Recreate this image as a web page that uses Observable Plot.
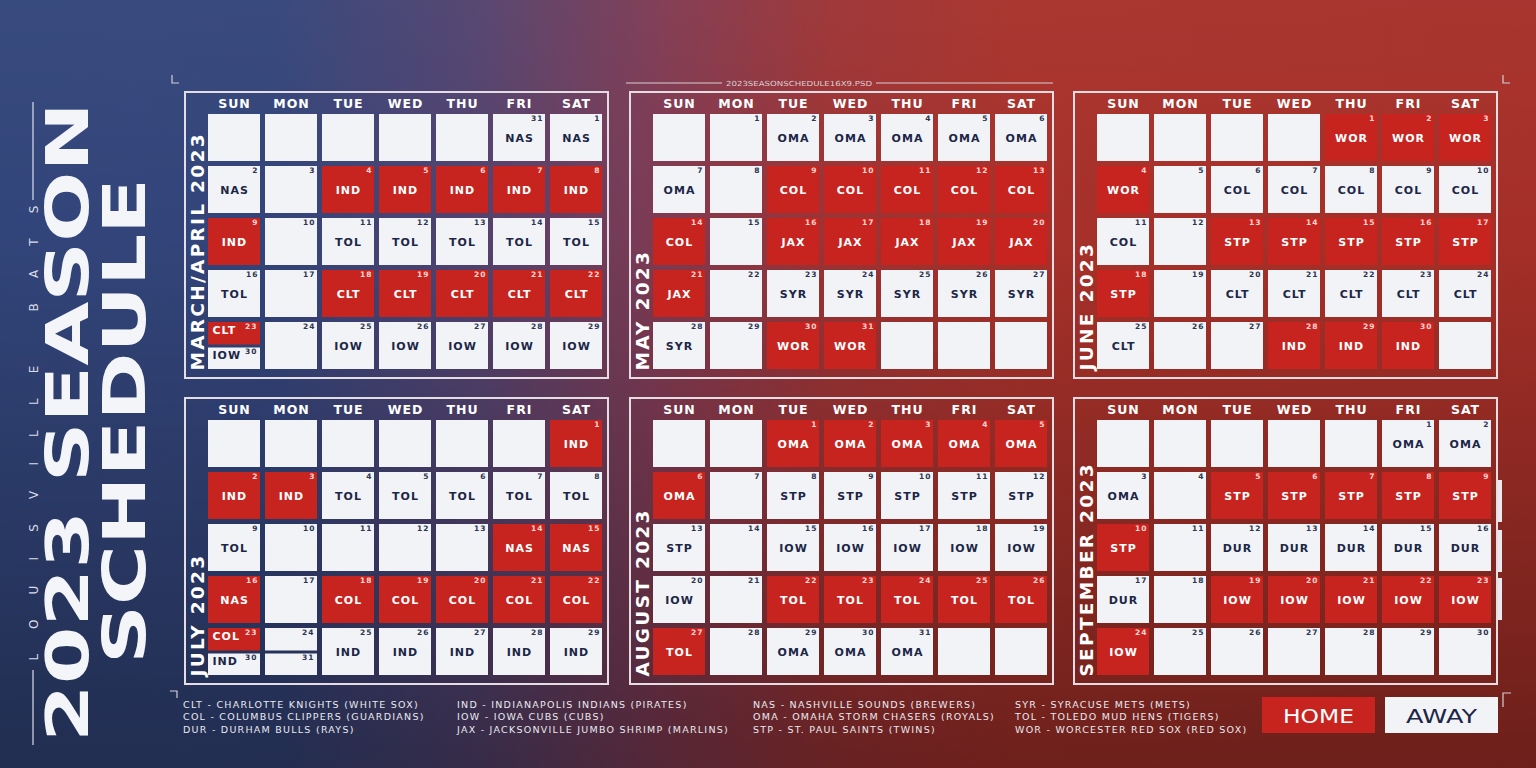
<!DOCTYPE html>
<html>
<head>
<meta charset="utf-8">
<script src="https://cdn.jsdelivr.net/npm/d3@7"></script>
<script src="https://cdn.jsdelivr.net/npm/@observablehq/plot@0.6"></script>
<style>
  html, body { margin: 0; padding: 0; background: #2b3560; }
  #page {
    position: relative; width: 1536px; height: 768px; overflow: hidden;
    background:
      linear-gradient(180deg, rgba(255,255,255,0.03) 0%, rgba(0,0,0,0) 30%, rgba(0,0,0,0.34) 100%),
      linear-gradient(90deg, #32457a 0%, #33447a 18%, #52426e 31%, #7f3a52 43%, #9c3334 54%, #a7312a 66%, #a52f28 100%);
    font-family: "DejaVu Sans", sans-serif;
  }
  #deco { position: absolute; left: 0; top: 0; }
  .panel { position: absolute; }
  .month text { letter-spacing: 1px; }
</style>
</head>
<body>
<div id="page"></div>
<script>
// ---------------- data ----------------
const weekdays = ["SUN", "MON", "TUE", "WED", "THU", "FRI", "SAT"];
const monthTitles = ["MARCH/APRIL 2023", "MAY 2023", "JUNE 2023", "JULY 2023", "AUGUST 2023", "SEPTEMBER 2023"];
const monthStarts = ["2023-03-31", "2023-05-01", "2023-06-01", "2023-07-01", "2023-08-01", "2023-09-01"];

// one entry per calendar day from the start date ("-" = no game); H = home, A = away
const aprilOpponents = "NAS NAS NAS - IND IND IND IND IND IND - TOL TOL TOL TOL TOL TOL - CLT CLT CLT CLT CLT CLT - IOW IOW IOW IOW IOW IOW".split(" ");
const aprilSides     = "A A A - H H H H H H - A A A A A A - H H H H H H - A A A A A A".split(" ");
const mayOpponents   = "- OMA OMA OMA OMA OMA OMA - COL COL COL COL COL COL - JAX JAX JAX JAX JAX JAX - SYR SYR SYR SYR SYR SYR - WOR WOR".split(" ");
const maySides       = "- A A A A A A - H H H H H H - H H H H H H - A A A A A A - H H".split(" ");
const juneOpponents  = "WOR WOR WOR WOR - COL COL COL COL COL COL - STP STP STP STP STP STP - CLT CLT CLT CLT CLT CLT - - IND IND IND".split(" ");
const juneSides      = "H H H H - A A A A A A - H H H H H H - A A A A A A - - H H H".split(" ");
const julyOpponents  = "IND IND IND TOL TOL TOL TOL TOL TOL - - - - NAS NAS NAS - COL COL COL COL COL COL - IND IND IND IND IND IND -".split(" ");
const julySides      = "H H H A A A A A A - - - - H H H - H H H H H H - A A A A A A -".split(" ");
const augOpponents   = "OMA OMA OMA OMA OMA OMA - STP STP STP STP STP STP - IOW IOW IOW IOW IOW IOW - TOL TOL TOL TOL TOL TOL - OMA OMA OMA".split(" ");
const augSides       = "H H H H H H - A A A A A A - A A A A A A - H H H H H H - A A A".split(" ");
const sepOpponents   = "OMA OMA OMA - STP STP STP STP STP STP - DUR DUR DUR DUR DUR DUR - IOW IOW IOW IOW IOW IOW - - - - - -".split(" ");
const sepSides       = "A A A - H H H H H H - A A A A A A - H H H H H H - - - - - -".split(" ");

const monthOpponents = [aprilOpponents, mayOpponents, juneOpponents, julyOpponents, augOpponents, sepOpponents];
const monthSides = [aprilSides, maySides, juneSides, julySides, augSides, sepSides];

const legendTeams = [
  "CLT - CHARLOTTE KNIGHTS (WHITE SOX)", "COL - COLUMBUS CLIPPERS (GUARDIANS)", "DUR - DURHAM BULLS (RAYS)",
  "IND - INDIANAPOLIS INDIANS (PIRATES)", "IOW - IOWA CUBS (CUBS)", "JAX - JACKSONVILLE JUMBO SHRIMP (MARLINS)",
  "NAS - NASHVILLE SOUNDS (BREWERS)", "OMA - OMAHA STORM CHASERS (ROYALS)", "STP - ST. PAUL SAINTS (TWINS)",
  "SYR - SYRACUSE METS (METS)", "TOL - TOLEDO MUD HENS (TIGERS)", "WOR - WORCESTER RED SOX (RED SOX)"
];
const legendKeys = ["HOME", "AWAY"];

// ---------------- styles ----------------
const RED = "#c8241f", WHITE = "#f2f3f7", NAVY = "#1c2646", LINE = "#e4dde4";
const FONT = "DejaVu Sans";

// ---------------- build records ----------------
function buildMonth(start, opps, sides) {
  const t0 = new Date(start + "T00:00:00Z");
  const lead = t0.getUTCDay();
  const byPos = new Map();
  opps.forEach((o, i) => {
    const d = d3.utcDay.offset(t0, i);
    const k = lead + i;
    byPos.set((k % 7) + "," + Math.floor(k / 7), {
      day: d.getUTCDate(), opp: o === "-" ? "" : o, side: sides[i] === "H" ? "H" : "A"
    });
  });
  const recs = [];
  for (let w = 0; w < 5; w++) {
    for (let c = 0; c < 7; c++) {
      const base = {dow: weekdays[c], week: w};
      const d = byPos.get(c + "," + w);
      const extra = w === 4 ? byPos.get(c + ",5") : undefined;
      if (extra) {
        recs.push({...base, ...d, part: "top"});
        recs.push({...base, ...extra, part: "bottom"});
      } else {
        recs.push({...base, ...(d || {day: null, opp: "", side: "A"}), part: "full"});
      }
    }
  }
  return recs;
}

function sideText(data, opts, homeFill, awayFill) {
  return [
    Plot.text(data.filter(d => d.side === "H"), {...opts, fill: homeFill}),
    Plot.text(data.filter(d => d.side !== "H"), {...opts, fill: awayFill})
  ];
}

function monthPlot(title, recs) {
  const full = recs.filter(d => d.part === "full");
  const top = recs.filter(d => d.part === "top");
  const bottom = recs.filter(d => d.part === "bottom");
  const lab = {x: "dow", y: "week", text: "opp", fontFamily: FONT, fontWeight: "bold", fontSize: 11};
  const num = {x: "dow", y: "week", text: "day", fontFamily: FONT, fontWeight: "bold", fontSize: 7.5, textAnchor: "end"};
  const chart = Plot.plot({
    width: 426, height: 289,
    marginLeft: 25, marginRight: 7, marginTop: 23, marginBottom: 9,
    className: "month",
    style: {background: "transparent", color: "white", overflow: "visible"},
    x: {domain: weekdays, paddingInner: 0.088, paddingOuter: 0, axis: null},
    y: {domain: [0, 1, 2, 3, 4], paddingInner: 0.105, paddingOuter: 0, axis: null},
    color: {domain: ["H", "A"], range: [RED, WHITE]},
    marks: [
      Plot.frame({stroke: LINE, strokeWidth: 2, insetLeft: -23.5, insetRight: -5.5, insetTop: -21.5, insetBottom: -7.5}),
      Plot.axisX({anchor: "top", tickSize: 0, tickPadding: 6, fontSize: 12.5, fontWeight: "bold", fontFamily: FONT, label: null, color: "white"}),
      Plot.cell(full, {x: "dow", y: "week", fill: "side"}),
      Plot.cell(top, {x: "dow", y: "week", fill: "side", insetBottom: 24.5}),
      Plot.cell(bottom, {x: "dow", y: "week", fill: "side", insetTop: 25.5}),
      ...sideText(full.filter(d => d.opp), {...lab, dy: 0}, "white", NAVY),
      ...sideText(full.filter(d => d.day != null), {...num, dx: 24, dy: -19.5}, "#ffd6d2", "#2c344f"),
      ...sideText(top.filter(d => d.opp), {...lab, textAnchor: "start", dx: -22, dy: -16}, "white", NAVY),
      ...sideText(top, {...num, dx: 23, dy: -19.5}, "#ffd6d2", "#2c344f"),
      ...sideText(bottom.filter(d => d.opp), {...lab, textAnchor: "start", dx: -22, dy: 9}, "white", NAVY),
      ...sideText(bottom, {...num, dx: 23, dy: 5.5}, "#ffd6d2", "#2c344f"),
      Plot.text([title], {text: d => d, frameAnchor: "bottom-left", rotate: -90, textAnchor: "start", dx: -5,
        fontSize: 18.5, fontWeight: "bold", fontFamily: FONT, fill: "white"})
    ]
  });
  // wider tracking for the vertical month title
  d3.select(chart).selectAll("text").filter(function () { return this.textContent === title; })
    .style("letter-spacing", "2.3px");
  return chart;
}

// ---------------- page ----------------
const page = document.getElementById("page");

// decorative layer (titles, legend, marks)
const svg = d3.select(page).append("svg").attr("id", "deco").attr("width", 1536).attr("height", 768)
  .attr("font-family", FONT);

svg.append("text").attr("transform", "translate(88,422) rotate(-90)").attr("text-anchor", "middle")
  .attr("font-size", 59).attr("font-weight", "bold").attr("fill", "#f4f5f8")
  .attr("textLength", 640).attr("lengthAdjust", "spacingAndGlyphs").text("2023 SEASON");
svg.append("text").attr("transform", "translate(145,421) rotate(-90)").attr("text-anchor", "middle")
  .attr("font-size", 59).attr("font-weight", "bold").attr("fill", "#f4f5f8")
  .attr("textLength", 486).attr("lengthAdjust", "spacingAndGlyphs").text("SCHEDULE");
svg.append("text").attr("transform", "translate(37.5,433) rotate(-90)").attr("text-anchor", "middle")
  .attr("font-size", 12).attr("fill", "#d9dce8")
  .attr("textLength", 455).attr("lengthAdjust", "spacing").text("LOUISVILLE BATS");
svg.append("path").attr("d", "M33,102V200M33,670V745").attr("stroke", "#d9dce8").attr("stroke-width", 1.2);

// file name line
svg.append("path").attr("d", "M626,83H722M876,83H1053").attr("stroke", "#d8cfd6").attr("stroke-width", 1);
svg.append("text").attr("x", 799).attr("y", 85.5).attr("text-anchor", "middle").attr("font-size", 7)
  .attr("fill", "#d8cfd6").attr("textLength", 146).attr("lengthAdjust", "spacingAndGlyphs")
  .text("2023SEASONSCHEDULE16X9.PSD");

// corner marks
svg.append("path")
  .attr("d", "M172,75V83H179M1503,75V83H1510M170,691H177V698M1503,707V693H1511")
  .attr("fill", "none").attr("stroke", "#d0d0d8").attr("stroke-width", 1.2);

// small tabs at right of September
[[480, 522], [530, 572], [578, 620]].forEach(([a, b]) =>
  svg.append("rect").attr("x", 1498).attr("y", a).attr("width", 4).attr("height", b - a).attr("fill", "#ebe8ee"));

// legend of teams
const legendX = [183, 457, 753, 1015];
const legendY = [704, 716.5, 729];
legendTeams.forEach((t, i) => {
  svg.append("text").attr("x", legendX[Math.floor(i / 3)]).attr("y", legendY[i % 3])
    .attr("dominant-baseline", "central").attr("font-size", 9.5).attr("letter-spacing", 1.25)
    .attr("fill", "#e9e9f0").text(t);
});

// home / away key
const keyX = [1262, 1385];
legendKeys.forEach((k, i) => {
  svg.append("rect").attr("x", keyX[i]).attr("y", 697).attr("width", 113).attr("height", 36)
    .attr("fill", i === 0 ? RED : WHITE);
  svg.append("text").attr("x", keyX[i] + 56.5).attr("y", 716).attr("text-anchor", "middle")
    .attr("dominant-baseline", "central").attr("font-size", 19)
    .attr("textLength", 71).attr("lengthAdjust", "spacingAndGlyphs")
    .attr("fill", i === 0 ? "#ffffff" : NAVY).text(k);
});

// month panels
const panelLeft = [183, 627.5, 1072];
const panelTop = [90, 396];
monthTitles.forEach((title, i) => {
  const recs = buildMonth(monthStarts[i], monthOpponents[i], monthSides[i]);
  const div = document.createElement("div");
  div.className = "panel";
  div.style.left = panelLeft[i % 3] + "px";
  div.style.top = panelTop[Math.floor(i / 3)] + "px";
  div.appendChild(monthPlot(title, recs));
  page.appendChild(div);
});
</script>
</body>
</html>
